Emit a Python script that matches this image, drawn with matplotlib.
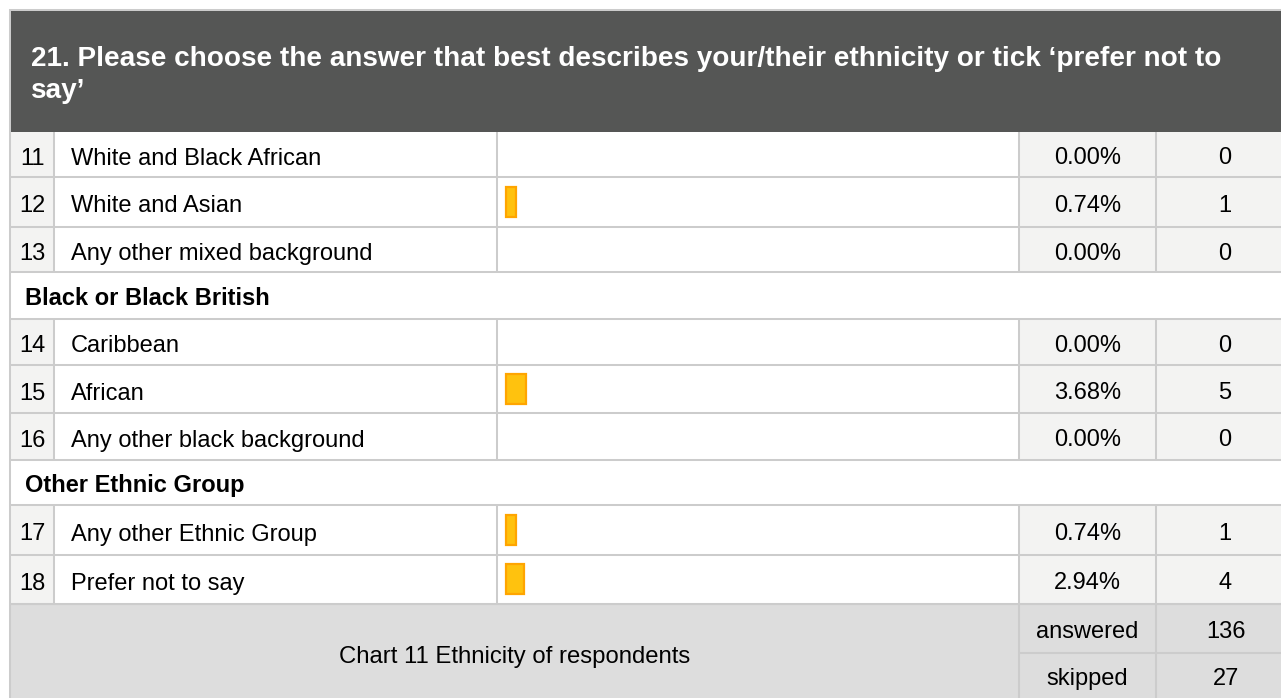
import matplotlib.pyplot as plt
from matplotlib.patches import Rectangle

plt.rcParams['font.family'] = ['Liberation Sans', 'DejaVu Sans']

# Question text and table contents
title_lines = [
    "21. Please choose the answer that best describes your/their ethnicity or tick \u2018prefer not to",
    "say\u2019",
]
row_numbers = ["11", "12", "13", None, "14", "15", "16", None, "17", "18"]
row_labels = [
    "White and Black African",
    "White and Asian",
    "Any other mixed background",
    "Black or Black British",
    "Caribbean",
    "African",
    "Any other black background",
    "Other Ethnic Group",
    "Any other Ethnic Group",
    "Prefer not to say",
]
row_percents = [0.00, 0.74, 0.00, None, 0.00, 3.68, 0.00, None, 0.74, 2.94]
row_counts = [0, 1, 0, None, 0, 5, 0, None, 1, 4]
summary_labels = ["answered", "skipped"]
summary_values = [136, 27]
caption = "Chart 11 Ethnicity of respondents"

# Layout in pixels
W, H = 1281, 698
LEFT = 10
HEADER_TOP, HEADER_BOTTOM = 10, 131.5
ROW_EDGES = [131.5, 177, 227, 272, 319, 365, 413, 460, 505, 555, 603.5]
FOOT_SPLIT = 652.5
COL_NUM, COL_LABEL, COL_BAR, COL_PCT = 54, 497, 1019, 1156
BAR_X0, BAR_MIN, BAR_SCALE, BAR_H = 506, 8.0, 3.25, 30

HEADER_BG = '#555655'
LINE = '#cccccc'
CELL_BG = '#f3f3f2'
FOOT_BG = '#dddddd'
BAR_FILL = '#ffc20e'
BAR_EDGE = '#ffa500'
LW = 1.45
FS = 17

fig = plt.figure(figsize=(W / 100, H / 100), dpi=100)
ax = fig.add_axes([0, 0, 1, 1])
ax.set_xlim(0, W)
ax.set_ylim(H, 0)
ax.axis('off')


def box(x0, y0, x1, y1, color):
    ax.add_patch(Rectangle((x0, y0), x1 - x0, y1 - y0, facecolor=color,
                           edgecolor='none', zorder=1))


# header band
box(LEFT, HEADER_TOP, W, HEADER_BOTTOM, HEADER_BG)
ax.hlines(HEADER_TOP - 0.5, LEFT - 1, W, color=LINE, lw=LW, zorder=3)
for i, line in enumerate(title_lines):
    ax.text(31, 66 + i * 32, line, color='white', fontsize=20.1,
            fontweight='bold', va='baseline', ha='left', zorder=4)

# table rows
for i, label in enumerate(row_labels):
    y0, y1 = ROW_EDGES[i], ROW_EDGES[i + 1]
    yc = (y0 + y1) / 2
    if row_numbers[i] is None:
        # group heading row spans the whole width
        ax.text(25, yc + 9.5, label, fontsize=FS, fontweight='bold',
                va='baseline', ha='left', zorder=4)
        continue
    box(LEFT, y0, COL_NUM, y1, CELL_BG)
    box(COL_BAR, y0, W, y1, CELL_BG)
    ax.vlines([COL_NUM, COL_LABEL, COL_BAR, COL_PCT], y0, y1, color=LINE,
              lw=LW, zorder=3)
    ax.text(32, yc + 10.5, row_numbers[i], fontsize=FS, ha='center',
            va='baseline', zorder=4)
    ax.text(71, yc + 10.5, label, fontsize=FS, ha='left', va='baseline',
            zorder=4)
    ax.text((COL_BAR + COL_PCT) / 2, yc + 10, f"{row_percents[i]:.2f}%",
            fontsize=FS, ha='center', va='baseline', zorder=4)
    ax.text(1225, yc + 10, str(row_counts[i]), fontsize=FS, ha='center',
            va='baseline', zorder=4)
    if row_counts[i] > 0:
        ax.barh(yc, BAR_MIN + row_percents[i] * BAR_SCALE, height=BAR_H,
                left=BAR_X0, color=BAR_FILL, edgecolor=BAR_EDGE,
                linewidth=1.6, zorder=4)

ax.hlines(ROW_EDGES[1:], LEFT, W, color=LINE, lw=LW, zorder=3)

# footer with caption and response totals
foot_top = ROW_EDGES[-1]
box(LEFT, foot_top, W, H, FOOT_BG)
ax.hlines(foot_top, LEFT, W, color=LINE, lw=LW, zorder=3)
ax.hlines(FOOT_SPLIT, COL_BAR, W, color=LINE, lw=LW, zorder=3)
ax.vlines([COL_BAR, COL_PCT], foot_top, H, color=LINE, lw=LW, zorder=3)
ax.text((LEFT + COL_BAR) / 2, 663, caption, fontsize=17.2, ha='center',
        va='baseline', zorder=4)
for i, (name, val) in enumerate(zip(summary_labels, summary_values)):
    base = 638 + i * 47
    ax.text((COL_BAR + COL_PCT) / 2, base, name, fontsize=FS, ha='center',
            va='baseline', zorder=4)
    ax.text(1226, base, str(val), fontsize=FS, ha='center', va='baseline',
            zorder=4)

# outer left border
ax.vlines(LEFT - 0.5, HEADER_TOP - 1, H, color=LINE, lw=LW, zorder=3)

fig.savefig('out.png', dpi=100, facecolor='white')
